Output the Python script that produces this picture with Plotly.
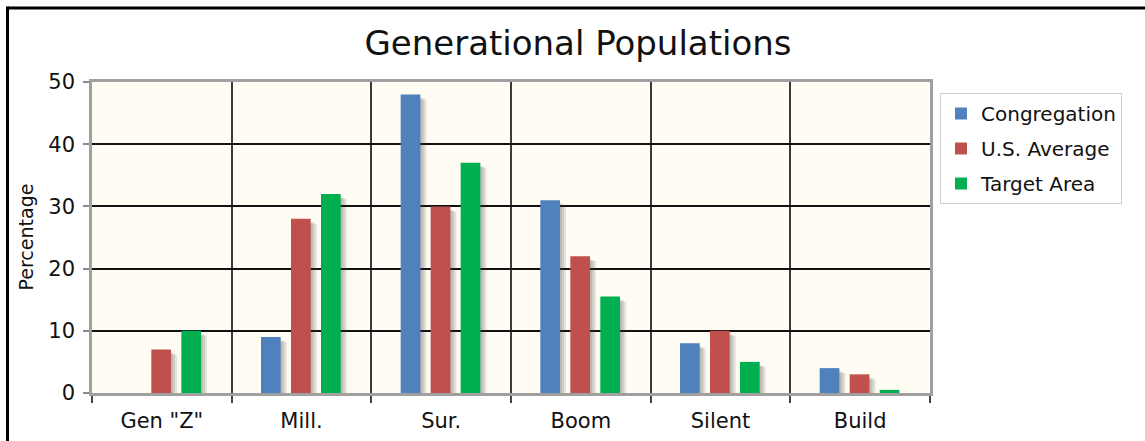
import plotly.graph_objects as go

# ---- data -------------------------------------------------------------
categories = ['Gen "Z"', "Mill.", "Sur.", "Boom", "Silent", "Build"]
congregation = [0, 9, 48, 31, 8, 4]
us_average = [7, 28, 30, 22, 10, 3]
target_area = [10, 32, 37, 15.5, 5, 0.5]
y_ticks = [0, 10, 20, 30, 40, 50]

series = [
    ("Congregation", congregation, "#4F81BD"),
    ("U.S. Average", us_average, "#C0504D"),
    ("Target Area", target_area, "#00B050"),
]

# ---- geometry ---------------------------------------------------------
W, H = 1145, 441
M_L, M_R, M_T, M_B = 92, 215, 82, 48
PLOT_W = W - M_L - M_R
PLOT_H = H - M_T - M_B
Y_MAX = 50
CAT_PX = PLOT_W / len(categories)          # pixels per category
UNIT_PER_PX = Y_MAX / PLOT_H                # y data units per pixel

BAR_W = 19.7 / CAT_PX
BAR_OFFSETS = [-40.5 / CAT_PX, -10.5 / CAT_PX, 19.5 / CAT_PX]

FONT = "DejaVu Sans"
TEXT = "#111111"


def px_x(px):
    return (px - M_L) / PLOT_W


def px_y(py):
    return (H - M_B - py) / PLOT_H


fig = go.Figure()

# soft drop shadows behind each bar (layered translucent copies)
for (name, vals, color), off in zip(series, BAR_OFFSETS):
    for dx, dy in [(2, 3), (4, 4), (6, 5)]:
        fig.add_trace(go.Bar(
            x=categories,
            y=[max(0, v - dy * UNIT_PER_PX) if v > 0 else 0 for v in vals],
            offset=off + dx / CAT_PX,
            width=BAR_W,
            marker=dict(color="rgba(60,60,60,0.13)", line=dict(width=0)),
            showlegend=False,
            hoverinfo="skip",
        ))

# main bars
for (name, vals, color), off in zip(series, BAR_OFFSETS):
    fig.add_trace(go.Bar(
        x=categories,
        y=vals,
        name=name,
        legendgroup=name,
        offset=off,
        width=BAR_W,
        marker=dict(color=color, line=dict(width=0)),
    ))

fig.update_layout(
    width=W,
    height=H,
    margin=dict(l=M_L, r=M_R, t=M_T, b=M_B, pad=0, autoexpand=False),
    barmode="overlay",
    paper_bgcolor="white",
    plot_bgcolor="#FFFCF3",
    font=dict(family=FONT, color=TEXT),
    title=dict(
        text="Generational Populations",
        x=578 / W,
        xanchor="center",
        y=1 - 43 / H,
        yanchor="middle",
        yref="container",
        font=dict(family=FONT, size=34, color=TEXT),
    ),
    legend=dict(
        x=px_x(940),
        y=px_y(93),
        xanchor="left",
        yanchor="top",
        bgcolor="white",
        bordercolor="#cfcfcf",
        borderwidth=1,
        font=dict(family=FONT, size=20, color=TEXT),
        tracegroupgap=6,
        traceorder="grouped",
        itemwidth=30,
    ),
    showlegend=True,
)

fig.update_xaxes(
    type="category",
    automargin=False,
    tickson="boundaries",
    ticks="outside",
    ticklen=7,
    tickwidth=2,
    tickcolor="#444444",
    showgrid=True,
    gridcolor="#3a3a3a",
    gridwidth=1.5,
    showline=True,
    linecolor="#a0a0a0",
    linewidth=2.5,
    mirror=True,
    zeroline=False,
    ticklabelstandoff=7,
    tickfont=dict(family=FONT, size=21, color=TEXT),
)

fig.update_yaxes(
    range=[0, Y_MAX],
    automargin=False,
    tickvals=y_ticks,
    ticks="outside",
    ticklen=6,
    tickwidth=1.5,
    tickcolor="#8a8a8a",
    showgrid=True,
    gridcolor="#111111",
    gridwidth=1.5,
    showline=True,
    linecolor="#a0a0a0",
    linewidth=2.5,
    mirror=True,
    zeroline=False,
    ticklabelstandoff=4,
    tickfont=dict(family=FONT, size=21, color=TEXT),
)

# y-axis caption
fig.add_annotation(
    text="Percentage",
    xref="paper", yref="paper",
    x=px_x(25), y=0.5,
    xanchor="center", yanchor="middle",
    textangle=-90,
    showarrow=False,
    font=dict(family=FONT, size=19, color=TEXT),
)

# black frame along the top and left of the picture
fig.add_shape(type="line", xref="paper", yref="paper",
              x0=px_x(7.5), x1=px_x(W + 10), y0=px_y(8), y1=px_y(8),
              line=dict(color="black", width=3))
fig.add_shape(type="line", xref="paper", yref="paper",
              x0=px_x(7.5), x1=px_x(7.5), y0=px_y(6.5), y1=px_y(H + 10),
              line=dict(color="black", width=3))

fig.write_html("out.html")
